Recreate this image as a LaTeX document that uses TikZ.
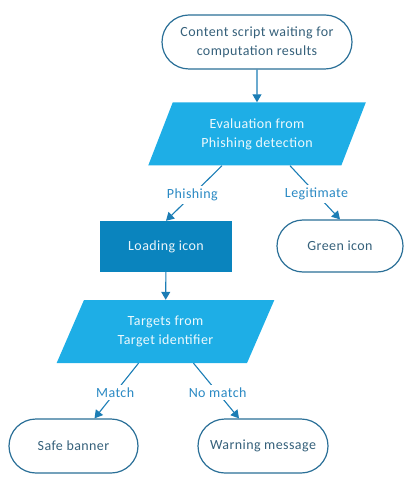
\documentclass[tikz,border=0pt]{standalone}
\usepackage{fontspec}
\setmainfont{Carlito}[LetterSpace=3]
\usetikzlibrary{shapes.geometric,shapes.misc,arrows.meta}
\usepackage{xcolor}
\definecolor{termline}{HTML}{2A6F97}
\definecolor{termtext}{HTML}{35607A}
\definecolor{iofill}{HTML}{1EAEE6}
\definecolor{procfill}{HTML}{0A84BE}
\definecolor{flowblue}{HTML}{1B7DB5}
\definecolor{lbltext}{HTML}{2B8AC4}

\begin{document}
\begin{tikzpicture}[x=1pt, y=-1pt,
  every node/.style={font=\fontsize{14}{19}\selectfont, align=center, inner sep=2pt},
  terminal/.style={rounded rectangle, draw=termline, line width=1.2pt, text=termtext},
  iobox/.style={trapezium, trapezium left angle=64.5, trapezium right angle=115.5,
    trapezium stretches=true, fill=iofill, text=white!92!iofill,
    minimum width=218pt, minimum height=63pt},
  process/.style={rectangle, fill=procfill, text=white!92!procfill},
  lbl/.style={fill=white, text=lbltext, inner sep=3pt, pos=0.53},
  flow/.style={draw=flowblue, line width=1.1pt, -{Triangle[length=8pt, width=9pt]}}
]
\useasboundingbox (0,0) rectangle (415,502);

\node[terminal, minimum width=194pt, minimum height=54pt] (start) at (257,42) {Content script waiting for\\computation results};
\node[iobox] (eval) at (257,134) {Evaluation from\\Phishing detection};
\node[process, minimum width=132pt, minimum height=51pt] (load) at (166,246.5) {Loading icon};
\node[terminal, minimum width=130pt, minimum height=52pt] (green) at (340,246) {Green icon};
\node[iobox] (target) at (165.5,331.5) {Targets from\\Target identifier};
\node[terminal, minimum width=133pt, minimum height=54pt] (safe) at (73.5,446) {Safe banner};
\node[terminal, minimum width=134pt, minimum height=54pt] (warn) at (263,446) {Warning message};

\draw[flow] (start) -- (eval);
\draw[flow] ([xshift=-35pt]eval.south) -- node[lbl] {Phishing} (load.north);
\draw[flow] ([xshift=33pt]eval.south) -- node[lbl] {Legitimate} (green.north);
\draw[flow] (load) -- (target);
\draw[flow] ([xshift=-27pt]target.south) -- node[lbl] {Match} ([xshift=21pt]safe.north);
\draw[flow] ([xshift=28pt]target.south) -- node[lbl] {No match} ([xshift=-24pt]warn.north);

\end{tikzpicture}
\end{document}
